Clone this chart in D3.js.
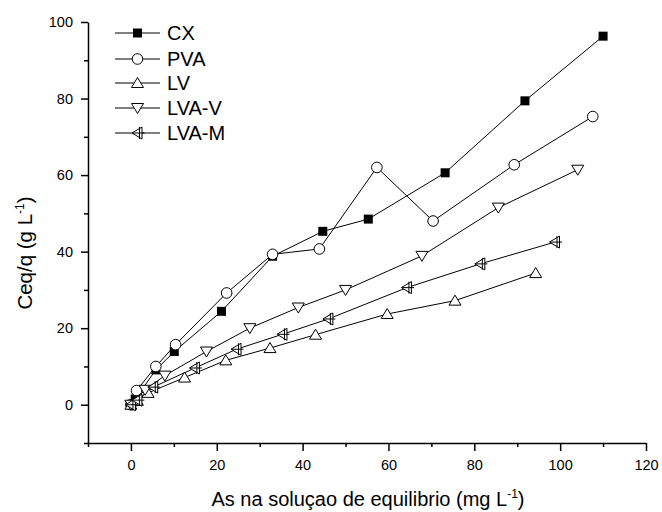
<!DOCTYPE html>
<html><head><meta charset="utf-8">
<script src="https://cdn.jsdelivr.net/npm/d3@7"></script>
<style>body{margin:0;background:#fff}svg{display:block}text{font-family:"Liberation Sans",Arial,sans-serif;fill:#000}</style>
</head><body><svg id="c" width="662" height="512"></svg>
<script>
const seriesNames = ["CX","PVA","LV","LVA-V","LVA-M"];
const cxX = [0, 1.0, 5.8, 10.1, 21.1, 33.0, 44.7, 55.3, 73.2, 91.8, 110.0];
const cxY = [0, 1.5, 9.1, 13.9, 24.4, 38.8, 45.3, 48.5, 60.6, 79.4, 96.3];
const pvaX = [0, 1.3, 5.8, 10.4, 22.3, 33.0, 43.9, 57.3, 70.4, 89.3, 107.6];
const pvaY = [0, 3.7, 10.0, 15.7, 29.2, 39.3, 40.7, 62.0, 48.0, 62.7, 75.3];
const lvX = [0, 1.5, 4.0, 12.5, 22.1, 32.4, 43.0, 59.7, 75.5, 94.3];
const lvY = [0, 1.0, 3.1, 7.1, 11.6, 14.8, 18.3, 23.7, 27.2, 34.4];
const lvavX = [0, 3.3, 7.9, 17.6, 27.7, 39.0, 50.0, 67.8, 85.6, 104.1];
const lvavY = [0, 3.9, 7.6, 13.9, 20.0, 25.4, 30.0, 38.9, 51.5, 61.4];
const lvamX = [0, 1.5, 5.2, 14.9, 24.6, 35.3, 46.0, 64.3, 81.4, 98.8];
const lvamY = [0, 1.2, 4.6, 9.6, 14.5, 18.4, 22.4, 30.6, 36.8, 42.5];
const xTicks = [0,20,40,60,80,100,120];
const yTicks = [0,20,40,60,80,100];

const svg = d3.select("#c");
const x = d3.scaleLinear().domain([-10,120]).range([88,646]);
const y = d3.scaleLinear().domain([-10,100]).range([443,22]);

// axes
const xa = svg.append("g").attr("transform","translate(0,443)")
  .call(d3.axisBottom(x).tickValues(xTicks).tickSize(8).tickSizeOuter(0).tickFormat(d3.format("d")));
const xm = svg.append("g").attr("transform","translate(0,443)")
  .call(d3.axisBottom(x).tickValues(d3.range(-10,121,10).filter(v=>v%20!==0)).tickSize(4).tickSizeOuter(0).tickFormat(""));
const ya = svg.append("g").attr("transform","translate(88,0)")
  .call(d3.axisLeft(y).tickValues(yTicks).tickSize(7).tickSizeOuter(0).tickFormat(d3.format("d")));
const ym = svg.append("g").attr("transform","translate(88,0)")
  .call(d3.axisLeft(y).tickValues(d3.range(-10,101,10).filter(v=>v%20!==0)).tickSize(4).tickSizeOuter(0).tickFormat(""));
[xa,xm,ya,ym].forEach(g=>{g.selectAll("path,line").attr("stroke","#000").attr("stroke-width",1.5);});
xm.select("path").remove(); ym.select("path").remove();
xa.selectAll("text").attr("font-size",14.5).attr("y",17).attr("dy","0.71em")
  .style("font-family","'Liberation Sans',Arial,sans-serif");
ya.selectAll("text").attr("font-size",14.5).attr("x",-15)
  .style("font-family","'Liberation Sans',Arial,sans-serif");

// titles
const xt = svg.append("text").attr("x",368).attr("y",506).attr("text-anchor","middle").attr("font-size",20);
xt.append("tspan").text("As na soluçao de equilibrio (mg L");
xt.append("tspan").attr("font-size",12).attr("dy",-8).text("-1");
xt.append("tspan").attr("dy",8).text(")");
const yt = svg.append("text").attr("transform","translate(32,253) rotate(-90)").attr("text-anchor","middle").attr("font-size",20.5);
yt.append("tspan").text("Ceq/q (g L");
yt.append("tspan").attr("font-size",12).attr("dy",-8).text("-1");
yt.append("tspan").attr("dy",8).text(")");

// markers
function marker(g, type, cx, cy){
  const s = "#000";
  if(type==="CX"){
    g.append("rect").attr("x",cx-4.5).attr("y",cy-4.5).attr("width",9).attr("height",9).attr("fill","#000");
  } else if(type==="PVA"){
    g.append("circle").attr("cx",cx).attr("cy",cy).attr("r",5.3).attr("fill","#fff").attr("stroke",s).attr("stroke-width",1);
  } else if(type==="LV"){
    g.append("path").attr("d",`M${cx},${cy-5.5}L${cx+6},${cy+4.5}L${cx-6},${cy+4.5}Z`).attr("fill","#fff").attr("stroke",s).attr("stroke-width",1);
  } else if(type==="LVA-V"){
    g.append("path").attr("d",`M${cx},${cy+5.5}L${cx+6},${cy-4.5}L${cx-6},${cy-4.5}Z`).attr("fill","#fff").attr("stroke",s).attr("stroke-width",1);
  } else {
    g.append("path").attr("d",`M${cx-5.5},${cy}L${cx+4.5},${cy-6}L${cx+4.5},${cy+6}Z`).attr("fill","#fff").attr("stroke",s).attr("stroke-width",1);
    g.append("line").attr("x1",cx+2).attr("x2",cx+2).attr("y1",cy-6).attr("y2",cy+6).attr("stroke",s).attr("stroke-width",1);
    g.append("line").attr("x1",cx-5).attr("x2",cx+7).attr("y1",cy).attr("y2",cy).attr("stroke",s).attr("stroke-width",1);
  }
}

const series = [
  {name:"CX", xs:cxX, ys:cxY},
  {name:"PVA", xs:pvaX, ys:pvaY},
  {name:"LV", xs:lvX, ys:lvY},
  {name:"LVA-V", xs:lvavX, ys:lvavY},
  {name:"LVA-M", xs:lvamX, ys:lvamY}
];
const line = d3.line().x(d=>x(d[0])).y(d=>y(d[1]));
const lg = svg.append("g");
series.forEach(sr=>{
  const pts = sr.xs.map((v,i)=>[v,sr.ys[i]]);
  lg.append("path").attr("d",line(pts)).attr("fill","none").attr("stroke","#000").attr("stroke-width",1);
});
series.forEach(sr=>{
  const g = svg.append("g");
  sr.xs.forEach((v,i)=>marker(g, sr.name, x(v), y(sr.ys[i])));
});

// legend
const legY = [33,59,83,108,133];
seriesNames.forEach((n,i)=>{
  const g = svg.append("g");
  g.append("line").attr("x1",115).attr("x2",160).attr("y1",legY[i]).attr("y2",legY[i]).attr("stroke","#000").attr("stroke-width",1);
  marker(g, n, 137.5, legY[i]);
  g.append("text").attr("x",167).attr("y",legY[i]+6.5).attr("font-size",20).text(n);
});
</script></body></html>
